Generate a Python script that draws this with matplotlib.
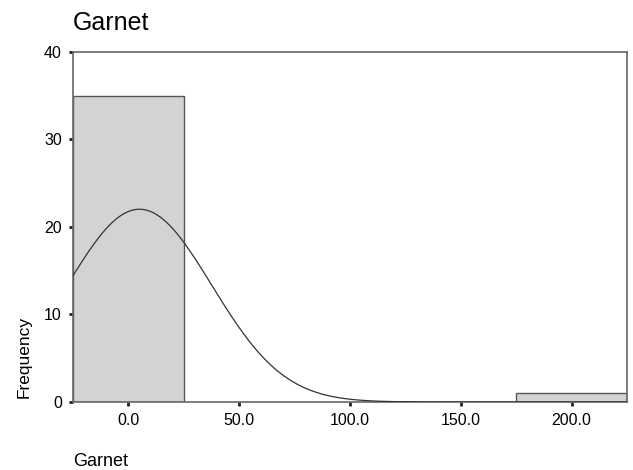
import numpy as np
import matplotlib.pyplot as plt

plt.rcParams['font.family'] = ['Liberation Sans', 'DejaVu Sans']

# histogram bins (left edges, width 50) and counts
bin_left = [-25, 25, 75, 125, 175]
counts = [35, 0, 0, 0, 1]
bin_width = 50

# normal curve params (as SPSS draws it)
mu = 5.0
sigma = 32.6
n_total = 36

xticks = [0, 50, 100, 150, 200]
xtick_labels = ['0.0', '50.0', '100.0', '150.0', '200.0']
yticks = [0, 10, 20, 30, 40]

fig = plt.figure(figsize=(6.33, 4.7), dpi=100)
ax = fig.add_axes([0.1153, 0.1447, 0.8752, 0.7447])

for left, c in zip(bin_left, counts):
    if c > 0:
        ax.bar(left, c, width=bin_width, align='edge', color='#d3d3d3',
               edgecolor='#555555', linewidth=1.0, zorder=2)

xs = np.linspace(-25, 225, 500)
ys = n_total * bin_width * np.exp(-0.5 * ((xs - mu) / sigma) ** 2) / (sigma * np.sqrt(2 * np.pi))
ax.plot(xs, ys, color='#333333', linewidth=0.9, zorder=3)

ax.set_xlim(-25, 225)
ax.set_ylim(0, 40)
ax.set_xticks(xticks)
ax.set_xticklabels(xtick_labels)
ax.set_yticks(yticks)
for s in ax.spines.values():
    s.set_color('#666666')
    s.set_linewidth(1.2)
ax.tick_params(axis='both', length=3, width=2, color='#222222', labelsize=11.5, pad=5)
ax.tick_params(axis='x', pad=5)

fig.text(0.1153, 0.936, 'Garnet', fontsize=18, ha='left', va='baseline')
fig.text(0.038, 0.24, 'Frequency', fontsize=12.5, rotation=90, ha='center', va='center')
fig.text(0.1153, 0.008, 'Garnet', fontsize=13, ha='left', va='baseline')

fig.savefig('out.png', dpi=100)
